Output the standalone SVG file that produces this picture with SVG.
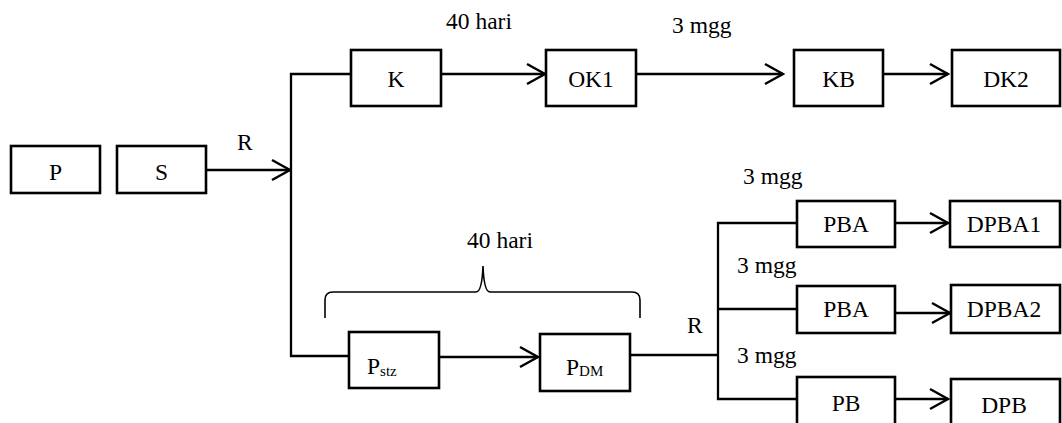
<svg xmlns="http://www.w3.org/2000/svg" width="1062" height="423" viewBox="0 0 1062 423">
  <defs>
    <style>
      .box { fill: #ffffff; stroke: #000000; stroke-width: 2.6; }
      .lbl { font-family: 'Liberation Serif', 'DejaVu Serif', serif; font-size: 23.5px; fill: #000000; }
      .mid { text-anchor: middle; }
      .sub { font-size: 15px; }
      .wire { fill: none; stroke: #000000; stroke-width: 2.3; }
      .brace { fill: none; stroke: #000000; stroke-width: 1.6; }
    </style>
    <marker id="chev" markerWidth="22" markerHeight="24" viewBox="0 0 22 24" refX="20" refY="12" orient="auto" markerUnits="userSpaceOnUse">
      <path d="M2,2 L20,12 L2,22" fill="none" stroke="#000000" stroke-width="2.5"/>
    </marker>
  </defs>

  <rect width="1062" height="423" fill="#ffffff"/>

  <!-- connectors -->
  <g id="connectors">
    <path class="wire" d="M206,170 H290" marker-end="url(#chev)"/>
    <path class="wire" d="M351,74 H291 V356 H349"/>
    <path class="wire" d="M441,74 H545" marker-end="url(#chev)"/>
    <path class="wire" d="M636,74 H783" marker-end="url(#chev)"/>
    <path class="wire" d="M883,74 H948" marker-end="url(#chev)"/>
    <path class="wire" d="M439,357 H538" marker-end="url(#chev)"/>
    <path class="wire" d="M630,355 H718"/>
    <path class="wire" d="M797,223 H718 V399 H797"/>
    <path class="wire" d="M718,309 H797"/>
    <path class="wire" d="M895,223 H948" marker-end="url(#chev)"/>
    <path class="wire" d="M895,313 H950" marker-end="url(#chev)"/>
    <path class="wire" d="M895,399 H948" marker-end="url(#chev)"/>
    <!-- curly brace spanning the two lower stages -->
    <path class="brace" d="M325,318 V300 Q325,292 333,292 H476 Q482,292 483,266 Q484,292 490,292 H632 Q640,292 640,300 V318"/>
  </g>

  <!-- edge labels -->
  <g id="labels" class="lbl" font-family="Liberation Serif, serif">
    <text x="237" y="150">R</text>
    <text x="446" y="29">40 hari</text>
    <text x="672" y="33">3 mgg</text>
    <text x="467" y="248">40 hari</text>
    <text x="687" y="333">R</text>
    <text x="743" y="184">3 mgg</text>
    <text x="737" y="273">3 mgg</text>
    <text x="737" y="363">3 mgg</text>
  </g>

  <!-- nodes -->
  <g id="nodes" font-family="Liberation Serif, serif">
    <g id="node-P"><rect class="box" x="11" y="146" width="89" height="47"/><text class="lbl mid" x="55.5" y="180">P</text></g>
    <g id="node-S"><rect class="box" x="117" y="146" width="89" height="47"/><text class="lbl mid" x="161.5" y="180">S</text></g>
    <g id="node-K"><rect class="box" x="351" y="50" width="90" height="56"/><text class="lbl mid" x="396" y="87">K</text></g>
    <g id="node-OK1"><rect class="box" x="546" y="50" width="90" height="56"/><text class="lbl mid" x="591" y="87">OK1</text></g>
    <g id="node-KB"><rect class="box" x="794" y="50" width="89" height="56"/><text class="lbl mid" x="838.5" y="87">KB</text></g>
    <g id="node-DK2"><rect class="box" x="952" y="50" width="108" height="56"/><text class="lbl mid" x="1006" y="87">DK2</text></g>
    <g id="node-Pstz"><rect class="box" x="349" y="332" width="90" height="56"/><text class="lbl" x="367" y="374">P<tspan class="sub" dy="2">stz</tspan></text></g>
    <g id="node-PDM"><rect class="box" x="540" y="334" width="90" height="57"/><text class="lbl" x="566" y="375">P<tspan class="sub" dy="1">DM</tspan></text></g>
    <g id="node-PBA1"><rect class="box" x="797" y="201" width="98" height="46"/><text class="lbl mid" x="846" y="232">PBA</text></g>
    <g id="node-DPBA1"><rect class="box" x="950" y="201" width="110" height="46"/><text class="lbl mid" x="1004" y="232">DPBA1</text></g>
    <g id="node-PBA2"><rect class="box" x="797" y="286" width="98" height="47"/><text class="lbl mid" x="846" y="317">PBA</text></g>
    <g id="node-DPBA2"><rect class="box" x="951" y="285" width="109" height="48"/><text class="lbl mid" x="1004" y="317">DPBA2</text></g>
    <g id="node-PB"><rect class="box" x="797" y="377" width="98" height="60"/><text class="lbl mid" x="846" y="411">PB</text></g>
    <g id="node-DPB"><rect class="box" x="951" y="379" width="109" height="60"/><text class="lbl mid" x="1004" y="413">DPB</text></g>
  </g>
</svg>
